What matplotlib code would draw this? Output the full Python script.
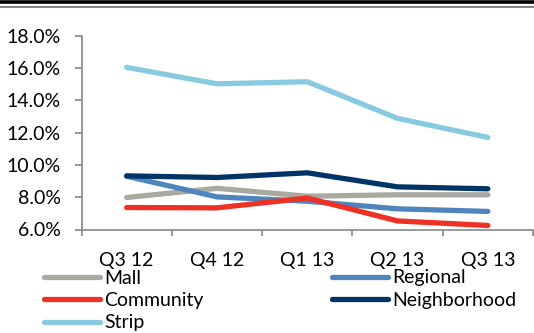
import matplotlib.pyplot as plt
from matplotlib.lines import Line2D
from matplotlib.ticker import FuncFormatter

plt.rcParams['font.family'] = ['Lato', 'DejaVu Sans']

quarters = ['Q3 12', 'Q4 12', 'Q1 13', 'Q2 13', 'Q3 13']
series_names = ['Mall', 'Regional', 'Community', 'Neighborhood', 'Strip']
mall = [7.98, 8.55, 8.06, 8.15, 8.15]
regional = [9.30, 8.02, 7.75, 7.28, 7.12]
community = [7.36, 7.34, 7.95, 6.53, 6.25]
neighborhood = [9.32, 9.22, 9.51, 8.64, 8.52]
strip = [16.04, 15.02, 15.15, 12.88, 11.70]
colors = ['#A8AAA2', '#4F85BE', '#EE3124', '#003466', '#88CBE0']

fig = plt.figure(figsize=(5.34, 3.33), dpi=100)
W, H = 534, 333
ax = fig.add_axes([81.5 / W, (H - 229.5) / H, (533 - 81.5) / W, (229.5 - 35.7) / H])

x = list(range(len(quarters)))
data = [mall, regional, community, neighborhood, strip]
for vals, c in zip(data, colors):
    ax.plot(x, vals, color=c, lw=3.8, solid_capstyle='round', solid_joinstyle='round')

ax.set_xlim(-0.5, 4.5)
ax.set_ylim(6, 18)
ax.set_yticks([6, 8, 10, 12, 14, 16, 18])
ax.yaxis.set_major_formatter(FuncFormatter(lambda v, p: f'{v:.1f}%'))
ax.set_xticks([i - 0.5 for i in range(6)])
ax.set_xticklabels([])
ax.set_xticks(x, minor=True)
ax.set_xticklabels(quarters, minor=True)
ax.tick_params(axis='x', which='minor', length=0, pad=16, labelsize=14)
ax.tick_params(axis='x', which='major', length=4, direction='out', color='#888888', width=1.2)
ax.tick_params(axis='y', length=5, direction='out', color='#888888', width=1.2, labelsize=14, pad=10)
for s in ['top', 'right']:
    ax.spines[s].set_visible(False)
for s in ['left', 'bottom']:
    ax.spines[s].set_color('#888888')
    ax.spines[s].set_linewidth(1.2)

# row-wise legend order: Mall, Regional / Community, Neighborhood / Strip
order = [0, 2, 4, 1, 3]
handles = [Line2D([], [], color=colors[i], lw=3.8, solid_capstyle='round') for i in order]
labels = [series_names[i] for i in order]
fig.legend(handles, labels, ncol=2, frameon=False, fontsize=14,
           loc='upper left', bbox_to_anchor=(44 / W, 1 - 269.5 / H),
           handlelength=2.9, handletextpad=0.2, columnspacing=6.6,
           labelspacing=0.28, borderpad=0, borderaxespad=0)

# header rules
fig.add_artist(Line2D([0, 1], [1 - 1.6 / H, 1 - 1.6 / H], color='black', lw=2.6))
fig.add_artist(Line2D([0, 1], [1 - 6.6 / H, 1 - 6.6 / H], color='#888888', lw=1.5))

fig.savefig('out.png', dpi=100)
